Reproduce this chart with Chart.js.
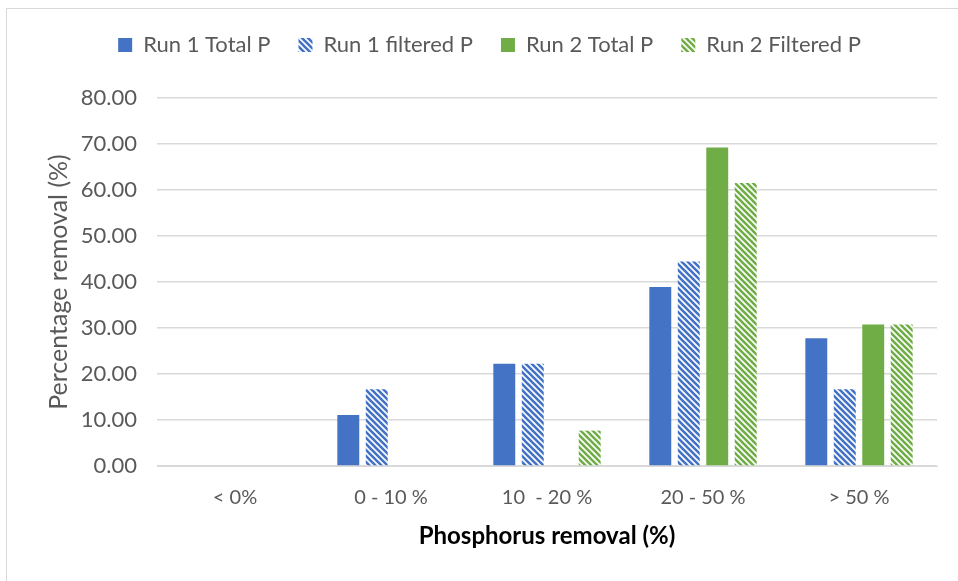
<!DOCTYPE html>
<html>
<head>
<meta charset="utf-8">
<script src="https://cdn.jsdelivr.net/npm/chart.js@4"></script>
<style>
  html, body { margin: 0; padding: 0; background: #fff; }
  #wrap { position: relative; width: 958px; height: 581px; }
  #frame { position: absolute; left: 6px; top: 8px; right: 0; bottom: 0;
           border-left: 1px solid #d9d9d9; border-top: 1px solid #d9d9d9; }
  canvas { position: absolute; left: 0; top: 0; }
</style>
</head>
<body>
<div id="wrap">
  <div id="frame"></div>
  <canvas id="chart" width="958" height="581"></canvas>
</div>
<script>
const categories = ['< 0%', '0 - 10 %', '10  - 20 %', '20 - 50 %', '> 50 %']
const run1Total = [0, 11.11, 22.22, 38.89, 27.78]
const run1Filtered = [0, 16.67, 22.22, 44.44, 16.67]
const run2Total = [0, 0, 0, 69.23, 30.77]
const run2Filtered = [0, 0, 7.69, 61.54, 30.77]

const BLUE = '#4472C4'
const GREEN = '#70AD47'

// diagonal stripe fill like the Excel pattern
function stripes(color) {
    const c = document.createElement('canvas')
    c.width = 6
    c.height = 6
    const g = c.getContext('2d')
    g.fillStyle = '#fff'
    g.fillRect(0, 0, 6, 6)
    g.strokeStyle = color
    g.lineWidth = 2.6
    g.beginPath()
    for (let k = -6; k <= 12; k += 6) {
        g.moveTo(k - 3, -3)
        g.lineTo(k + 9, 9)
    }
    g.stroke()
    return g.createPattern(c, 'repeat')
}

const font = 'Lato, "Open Sans", sans-serif'

const legendGap = {
    id: 'legendGap',
    beforeInit(chart) {
        const fit = chart.legend.fit
        chart.legend.fit = function () {
            fit.bind(chart.legend)()
            this.height += 32
        }
    }
}

new Chart(document.getElementById('chart'), {
    type: 'bar',
    data: {
        labels: categories,
        datasets: [
            { label: 'Run 1 Total P', data: run1Total, backgroundColor: BLUE },
            { label: 'Run 1 filtered P', data: run1Filtered, backgroundColor: stripes(BLUE) },
            { label: 'Run 2 Total P', data: run2Total, backgroundColor: GREEN },
            { label: 'Run 2 Filtered P', data: run2Filtered, backgroundColor: stripes(GREEN) }
        ]
    },
    options: {
        responsive: false,
        animation: false,
        layout: { padding: { left: 42, right: 21, top: 6, bottom: 26 } },
        datasets: {
            bar: { barPercentage: 0.77, categoryPercentage: 0.73, borderWidth: 0 }
        },
        plugins: {
            legend: {
                position: 'top',
                labels: {
                    color: '#595959',
                    font: { family: font, size: 22 },
                    boxWidth: 14,
                    boxHeight: 14,
                    padding: 28
                }
            },
            tooltip: { enabled: false }
        },
        scales: {
            x: {
                grid: { display: false },
                border: { color: '#d9d9d9', width: 1 },
                ticks: { color: '#595959', font: { family: font, size: 20 }, padding: 12 },
                title: {
                    display: true,
                    text: 'Phosphorus removal (%)',
                    color: '#000',
                    font: { family: font, size: 24, weight: 'bold' },
                    padding: { top: 6, bottom: 4 }
                },
                afterFit(scale) { scale.height = 89 }
            },
            y: {
                min: 0,
                max: 80,
                ticks: {
                    stepSize: 10,
                    color: '#595959',
                    font: { family: font, size: 22 },
                    padding: 20,
                    callback: v => v.toFixed(2)
                },
                grid: { color: '#d9d9d9', lineWidth: 1.5, drawTicks: false },
                border: { display: false },
                title: {
                    display: true,
                    text: 'Percentage removal (%)',
                    color: '#595959',
                    font: { family: font, size: 25 },
                    padding: { top: 2, bottom: 4 }
                },
                afterFit(scale) { scale.width = 115 }
            }
        }
    },
    plugins: [legendGap]
})
</script>
</body>
</html>
